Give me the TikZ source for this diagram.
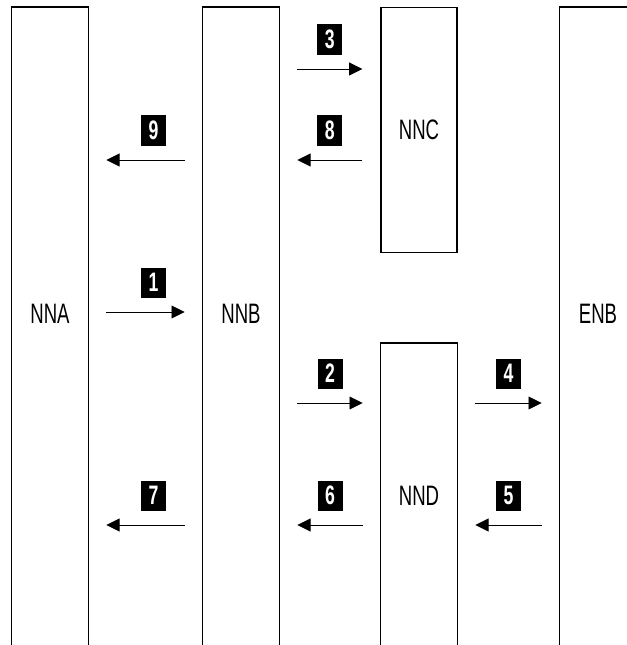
\documentclass[tikz,border=0pt]{standalone}
\usepackage{fontspec}
\newfontfamily\condsans[FakeStretch=0.66]{Liberation Sans}
\usetikzlibrary{arrows.meta,positioning}
\tikzset{
  column/.style={minimum width=1.9cm, inner sep=0pt, font=\condsans\fontsize{20}{20}\selectfont},
  frame/.style={line width=0.8pt},
  msg/.style={-{Triangle[length=0.33cm,width=0.32cm]}, line width=0.7pt, shorten <=0.45cm, shorten >=0.45cm},
  badge/.style={fill=black, text=white, minimum width=0.625cm, minimum height=0.75cm, inner sep=0pt,
    font=\condsans\bfseries\fontsize{19}{19}\selectfont},
}

\begin{document}
\begin{tikzpicture}[x=0.025cm, y=-0.025cm]
  \useasboundingbox[fill=white] (0,0) rectangle (626,645);

  % columns (open at the bottom, except NNC)
  \node[column, minimum height=15.3cm, anchor=north] (nna) at (50,7) {NNA};
  \node[column, minimum height=15.3cm, anchor=north] (nnb) at (241,7) {NNB};
  \node[column, draw, frame, minimum height=6.125cm, anchor=north] (nnc) at (419,7) {NNC};
  \node[column, minimum height=7.6cm, anchor=north] (nnd) at (419,343) {NND};
  \node[column, minimum height=15.3cm, anchor=north] (enb) at (598,7) {ENB};
  \foreach \c in {nna,nnb,nnd,enb}
    \draw[frame] ([yshift=-1cm]\c.south west) |- (\c.north east) -- ([yshift=-1cm]\c.south east);

  % message rows
  \coordinate (rowA) at (0,69);
  \coordinate (rowB) at (0,160);
  \coordinate (rowC) at (0,312);
  \coordinate (rowD) at (0,403);
  \coordinate (rowE) at (0,525);

  \draw[msg] (nna.east |- rowC) -- (nnb.west |- rowC) node[badge, pos=0.57, above=0.35cm] {1};
  \draw[msg] (nnb.east |- rowD) -- (nnd.west |- rowD) node[badge, midway, above=0.35cm] {2};
  \draw[msg] (nnb.east |- rowA) -- (nnc.west |- rowA) node[badge, midway, above=0.35cm] {3};
  \draw[msg] (nnd.east |- rowD) -- (enb.west |- rowD) node[badge, midway, above=0.35cm] {4};
  \draw[msg] (enb.west |- rowE) -- (nnd.east |- rowE) node[badge, midway, above=0.35cm] {5};
  \draw[msg] (nnd.west |- rowE) -- (nnb.east |- rowE) node[badge, midway, above=0.35cm] {6};
  \draw[msg] (nnb.west |- rowE) -- (nna.east |- rowE) node[badge, pos=0.43, above=0.35cm] {7};
  \draw[msg] (nnc.west |- rowB) -- (nnb.east |- rowB) node[badge, midway, above=0.35cm] {8};
  \draw[msg] (nnb.west |- rowB) -- (nna.east |- rowB) node[badge, pos=0.43, above=0.35cm] {9};
\end{tikzpicture}
\end{document}
